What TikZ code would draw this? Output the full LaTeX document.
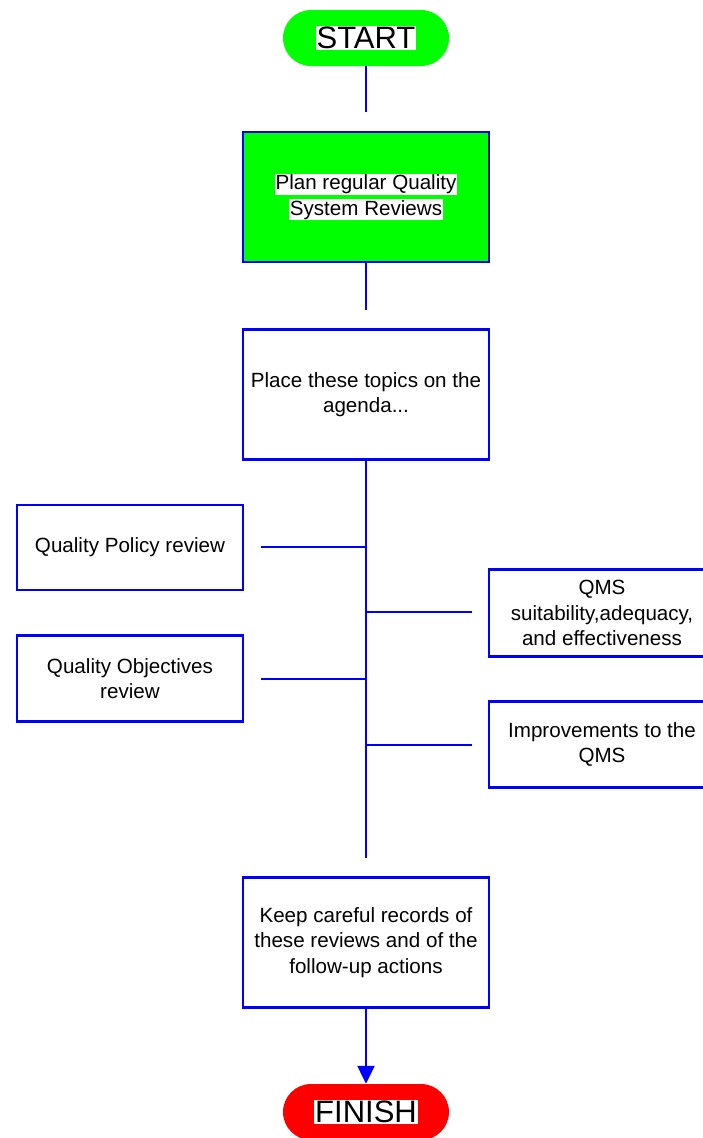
\documentclass[tikz,border=0pt]{standalone}
\usepackage{fontspec}
\setmainfont{Liberation Sans}
\usetikzlibrary{arrows.meta}
\definecolor{flowblue}{RGB}{0,0,255}
\definecolor{flowgreen}{RGB}{0,255,0}
\definecolor{flowred}{RGB}{255,0,0}
% white band behind a line of text
\newcommand{\hilite}[1]{{\setlength{\fboxsep}{1pt}\colorbox{white}{#1}}}

\begin{document}
\begin{tikzpicture}[x=1pt,y=-1pt,
  box/.style={draw=flowblue, line width=2.2pt, fill=white, inner sep=0pt,
    minimum width=246pt, minimum height=130pt, align=center,
    font=\fontsize{20.6}{25.5}\selectfont},
  sidebox/.style={box, minimum width=226pt, minimum height=85pt},
  terminal/.style={rounded corners=28pt, minimum width=166pt,
    minimum height=56pt, inner sep=0pt, font=\fontsize{31}{36}\selectfont},
  link/.style={draw=flowblue, line width=2.2pt}
]
\useasboundingbox (0,0) rectangle (703,1138);
\clip (0,0) rectangle (703,1138);

% main column
\node[terminal, fill=flowgreen] (start) at (366,38) {\hilite{START}};
\node[box, fill=flowgreen] (plan) at (366,197)
  {\hilite{Plan regular Quality}\\\hilite{System Reviews}};
\node[box] (agenda) at (366,394.5) {Place these topics on the\\agenda...};
\node[box] (records) at (366,942.5)
  {Keep careful records of\\these reviews and of the\\follow-up actions};
\node[terminal, fill=flowred] (finish) at (366,1112) {\hilite{FINISH}};

% agenda topics
\node[sidebox] (policy) at (130,547.5) {Quality Policy review};
\node[sidebox, minimum height=86pt] (objectives) at (130,678.5)
  {Quality Objectives\\review};
\node[sidebox, minimum height=87pt] (qms) at (602,613)
  {QMS\\suitability,adequacy,\\and effectiveness};
\node[sidebox, minimum height=86pt] (improve) at (602,744.5)
  {Improvements to the\\QMS};

% connectors
\coordinate (a1) at (366,112);
\coordinate (a2) at (366,310);
\coordinate (trunkend) at (366,858);
\draw[link] (start.south) -- (a1);
\draw[link] (plan.south) -- (a2);
\draw[link] (agenda.south) -- (trunkend);

\coordinate (pl) at (261,547);
\coordinate (ol) at (261,679);
\coordinate (ql) at (472,612);
\coordinate (il) at (472,745);
\draw[link] (pl) -- (pl -| agenda.south);
\draw[link] (ol) -- (ol -| agenda.south);
\draw[link] (ql) -- (ql -| agenda.south);
\draw[link] (il) -- (il -| agenda.south);

\draw[link, -{Triangle[width=17pt,length=18pt]}, fill=flowblue]
  (records.south) -- (finish.north);
\end{tikzpicture}
\end{document}
